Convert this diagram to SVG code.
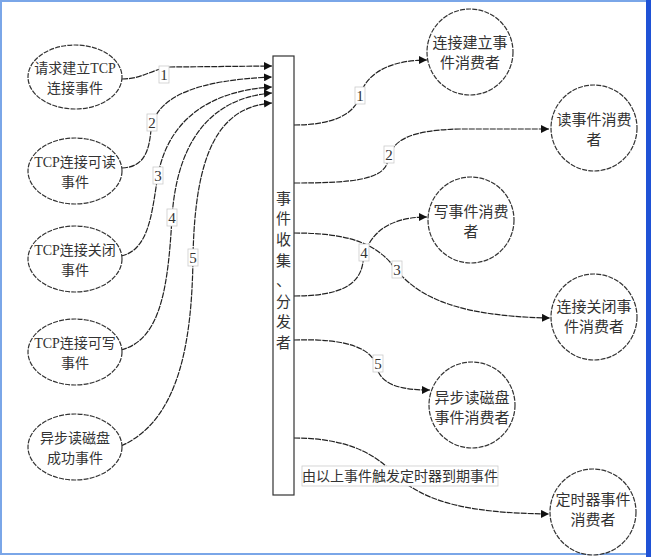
<svg xmlns="http://www.w3.org/2000/svg" width="651" height="557" viewBox="0 0 651 557">
<style>
.node{fill:#fff;stroke:#333;stroke-width:1.2;stroke-dasharray:5 1.2}
.t{font-family:"Liberation Serif","Noto Sans CJK SC",serif;font-size:14px;fill:#333;text-anchor:middle}
.tr{font-family:"Liberation Serif","Noto Sans CJK SC",serif;font-size:15px;fill:#333;text-anchor:middle}
.c{fill:none;stroke:#222;stroke-width:1.2;stroke-dasharray:6 1}
.lb{fill:#fff;stroke:#ccc;stroke-width:0.8}
.n{font-family:"Liberation Serif","Noto Sans CJK SC",serif;font-size:15px;fill:#333;text-anchor:middle}
</style>
<defs>
<marker id="ah" viewBox="0 0 10 10" refX="10" refY="5" markerWidth="8" markerHeight="8" markerUnits="userSpaceOnUse" orient="auto">
<path d="M0,0 L10,5 L0,10 z" fill="#111"/>
</marker>
</defs>
<rect x="0" y="0" width="651" height="557" fill="#fff"/>
<rect x="1" y="1" width="646" height="553" fill="none" stroke="#7aa6e8" stroke-width="2"/>
<rect x="646" y="0" width="5" height="557" fill="#1f52d6"/>

<g id="connectors">
<path class="c" d="M122,79 C142,79 150,70 170,67 L272,66" marker-end="url(#ah)"/>
<path class="c" d="M122,168 C145,167 149,150 151,130 C156,95 200,80 272,77" marker-end="url(#ah)"/>
<path class="c" d="M121,256 C150,250 152,210 158,175 C170,112 220,90 272,87" marker-end="url(#ah)"/>
<path class="c" d="M121,350 C160,340 168,290 172,217 C178,130 220,97 272,93" marker-end="url(#ah)"/>
<path class="c" d="M121,446 C180,420 192,340 193,257 C195,150 220,107 272,103" marker-end="url(#ah)"/>

<path class="c" d="M294,125 C332,125 355,115 360,95 C368,70 395,60 427,60" marker-end="url(#ah)"/>
<path class="c" d="M294,183 C352,183 385,180 388,160 C392,140 410,130 460,129 L549,129" marker-end="url(#ah)"/>
<path class="c" d="M294,233 C340,233 370,240 390,262 C412,292 445,316 550,318" marker-end="url(#ah)"/>
<path class="c" d="M294,296 C340,296 360,285 363,262 C366,240 382,217 427,217" marker-end="url(#ah)"/>
<path class="c" d="M294,340 C350,338 372,350 376,365 C380,385 400,390 430,390" marker-end="url(#ah)"/>
<path class="c" d="M294,438 C340,438 370,450 390,470 C420,500 460,513 549,514" marker-end="url(#ah)"/>

<rect class="lb" x="159" y="66" width="10" height="17"/><text class="n" x="164" y="80">1</text>
<rect class="lb" x="147" y="114" width="10" height="17"/><text class="n" x="152" y="128">2</text>
<rect class="lb" x="153" y="167" width="10" height="17"/><text class="n" x="158" y="181">3</text>
<rect class="lb" x="167" y="209" width="10" height="17"/><text class="n" x="172" y="223">4</text>
<rect class="lb" x="188" y="249" width="10" height="17"/><text class="n" x="193" y="263">5</text>

<rect class="lb" x="355" y="87" width="10" height="17"/><text class="n" x="360" y="101">1</text>
<rect class="lb" x="384" y="146" width="10" height="17"/><text class="n" x="389" y="160">2</text>
<rect class="lb" x="392" y="261" width="10" height="17"/><text class="n" x="397" y="275">3</text>
<rect class="lb" x="359" y="244" width="10" height="17"/><text class="n" x="364" y="258">4</text>
<rect class="lb" x="373" y="355" width="10" height="17"/><text class="n" x="378" y="369">5</text>

<rect class="lb" x="302" y="466" width="196" height="20"/>
<text class="t" x="400" y="481">由以上事件触发定时器到期事件</text>
</g>

<g id="hub">
<rect x="273" y="56" width="21" height="439" fill="#fff" stroke="#333" stroke-width="1.2"/>
<text class="tr" x="283.5" y="204">事</text>
<text class="tr" x="283.5" y="224">件</text>
<text class="tr" x="283.5" y="245">收</text>
<text class="tr" x="283.5" y="266">集</text>
<text class="tr" x="283.5" y="286">、</text>
<text class="tr" x="283.5" y="307">分</text>
<text class="tr" x="283.5" y="327">发</text>
<text class="tr" x="283.5" y="348">者</text>
</g>

<g id="src1"><ellipse class="node" cx="75" cy="77" rx="47" ry="32"/><text class="t" x="75" y="73">请求建立TCP</text><text class="t" x="75" y="93">连接事件</text></g>
<g id="src2"><ellipse class="node" cx="75" cy="171" rx="47" ry="33"/><text class="t" x="75" y="167">TCP连接可读</text><text class="t" x="75" y="187">事件</text></g>
<g id="src3"><ellipse class="node" cx="75" cy="259" rx="47" ry="33"/><text class="t" x="75" y="255">TCP连接关闭</text><text class="t" x="75" y="275">事件</text></g>
<g id="src4"><ellipse class="node" cx="75" cy="352" rx="47" ry="33"/><text class="t" x="75" y="348">TCP连接可写</text><text class="t" x="75" y="368">事件</text></g>
<g id="src5"><ellipse class="node" cx="75" cy="447" rx="47" ry="33"/><text class="t" x="75" y="443">异步读磁盘</text><text class="t" x="75" y="463">成功事件</text></g>

<g id="dst1"><circle class="node" cx="470" cy="52" r="43"/><text class="tr" x="470" y="48">连接建立事</text><text class="tr" x="470" y="68">件消费者</text></g>
<g id="dst2"><circle class="node" cx="594" cy="128" r="43"/><text class="tr" x="594" y="125">读事件消费</text><text class="tr" x="594" y="145">者</text></g>
<g id="dst3"><circle class="node" cx="471" cy="220" r="43"/><text class="tr" x="471" y="217">写事件消费</text><text class="tr" x="471" y="237">者</text></g>
<g id="dst4"><circle class="node" cx="594" cy="317" r="43"/><text class="tr" x="594" y="312">连接关闭事</text><text class="tr" x="594" y="332">件消费者</text></g>
<g id="dst5"><circle class="node" cx="472" cy="405" r="43"/><text class="tr" x="472" y="403">异步读磁盘</text><text class="tr" x="472" y="423">事件消费者</text></g>
<g id="dst6"><circle class="node" cx="593" cy="512" r="43"/><text class="tr" x="593" y="505">定时器事件</text><text class="tr" x="593" y="525">消费者</text></g>
</svg>
